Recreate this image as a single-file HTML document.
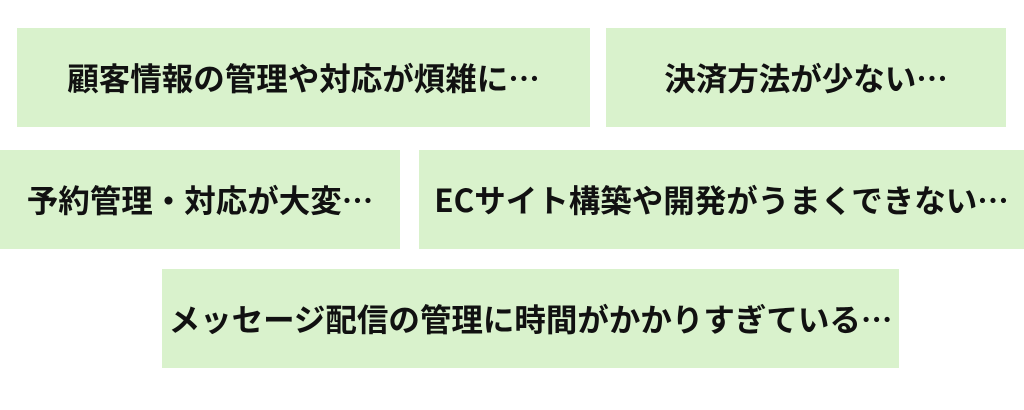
<!DOCTYPE html>
<html><head><meta charset="utf-8"><style>
body{margin:0;width:1024px;height:410px;background:#fff;position:relative;overflow:hidden;font-family:"Noto Sans CJK JP","Liberation Sans",sans-serif;}
.b{position:absolute;background:#d9f2cc;display:flex;align-items:center;justify-content:center;font-weight:bold;font-size:31.5px;color:#111;white-space:nowrap;line-height:1;}
</style></head><body>
<div class="b" style="left:17px;top:28px;width:573px;height:99px">顧客情報の管理や対応が煩雑に…</div>
<div class="b" style="left:606px;top:28px;width:400px;height:99px">決済方法が少ない…</div>
<div class="b" style="left:0px;top:150px;width:400px;height:99px">予約管理・対応が大変…</div>
<div class="b" style="left:419px;top:150px;width:605px;height:99px">ECサイト構築や開発がうまくできない…</div>
<div class="b" style="left:162px;top:269px;width:737px;height:99px">メッセージ配信の管理に時間がかかりすぎている…</div>
</body></html>
